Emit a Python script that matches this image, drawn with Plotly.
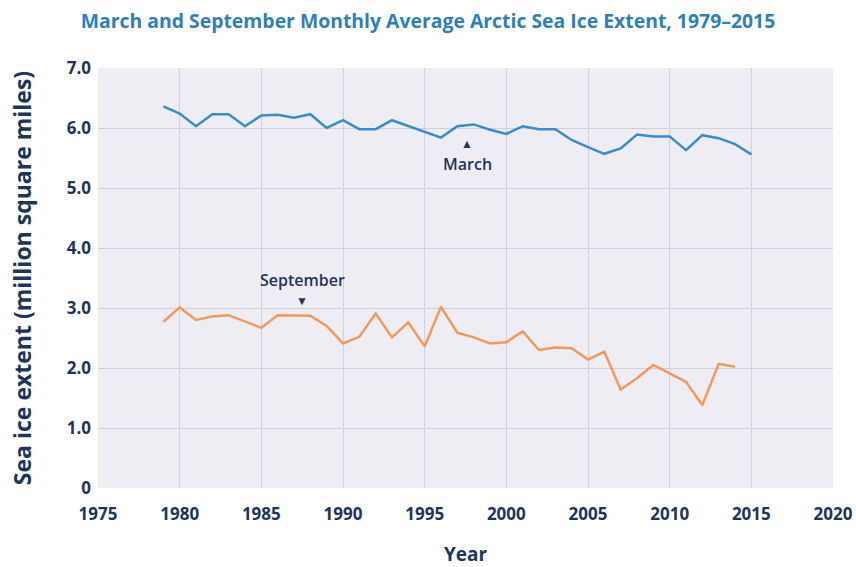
import plotly.graph_objects as go

years_march = list(range(1979, 2016))
march = [6.36, 6.24, 6.03, 6.23, 6.23, 6.03, 6.21, 6.22, 6.17, 6.23, 6.00, 6.13,
         5.98, 5.98, 6.13, 6.03, 5.94, 5.84, 6.03, 6.06, 5.97, 5.90, 6.03, 5.98,
         5.98, 5.80, 5.68, 5.57, 5.66, 5.89, 5.86, 5.86, 5.63, 5.88, 5.83, 5.73, 5.56]

years_sept = list(range(1979, 2015))
september = [2.77, 3.01, 2.80, 2.86, 2.88, 2.77, 2.67, 2.88, 2.87, 2.87, 2.70, 2.41,
             2.52, 2.91, 2.51, 2.76, 2.36, 3.02, 2.59, 2.51, 2.41, 2.43, 2.61, 2.30,
             2.34, 2.33, 2.14, 2.27, 1.64, 1.83, 2.05, 1.91, 1.77, 1.38, 2.07, 2.02]

x_ticks = list(range(1975, 2021, 5))
y_ticks = [0, 1, 2, 3, 4, 5, 6, 7]
y_ticktext = ["0", "1.0", "2.0", "3.0", "4.0", "5.0", "6.0", "7.0"]

NAVY = "#1f3557"
FONT = "Open Sans"

fig = go.Figure()
fig.add_trace(go.Scatter(x=years_march, y=march, mode="lines", name="March",
                         line=dict(color="#3a8ccc", width=2.5)))
fig.add_trace(go.Scatter(x=years_sept, y=september, mode="lines", name="September",
                         line=dict(color="#f0995c", width=2.5)))

fig.add_annotation(x=1997.6, y=5.74, text="▲", showarrow=False,
                   font=dict(family=FONT, size=12, color=NAVY))
fig.add_annotation(x=1997.6, y=5.40, text="March", showarrow=False,
                   font=dict(family=FONT, size=16, color=NAVY, weight=600))
fig.add_annotation(x=1987.5, y=3.46, text="September", showarrow=False,
                   font=dict(family=FONT, size=16, color=NAVY, weight=600))
fig.add_annotation(x=1987.5, y=3.12, text="▼", showarrow=False,
                   font=dict(family=FONT, size=12, color=NAVY))

fig.update_layout(
    width=856, height=567,
    margin=dict(l=98, r=23, t=68, b=79),
    paper_bgcolor="white",
    plot_bgcolor="#eeedf4",
    showlegend=False,
    title=dict(text="March and September Monthly Average Arctic Sea Ice Extent, 1979–2015",
               x=0.5, xanchor="center", y=1 - 21 / 567, yanchor="middle",
               font=dict(family=FONT, size=19.4, color="#2f7fb9", weight=700)),
    xaxis=dict(range=[1975, 2020], tickvals=x_ticks, showgrid=True,
               gridcolor="#d0cfda", gridwidth=1, zeroline=False, automargin=False,
               tickfont=dict(family=FONT, size=17, color=NAVY, weight=700),
               ticklabelstandoff=14,
               title=dict(text="Year", standoff=26,
                          font=dict(family=FONT, size=19, color=NAVY, weight=700))),
    yaxis=dict(range=[0, 7], tickvals=y_ticks, ticktext=y_ticktext, showgrid=True,
               gridcolor="#d0cfda", gridwidth=1, zeroline=False, automargin=False,
               tickfont=dict(family=FONT, size=17, color=NAVY, weight=700),
               ticklabelstandoff=6,
               title=dict(text="Sea ice extent (million square miles)", standoff=28,
                          font=dict(family=FONT, size=23, color=NAVY, weight=700))),
)

# remove the browser's default 8px body margin so the figure fills the window
fig.write_html("out.html", config={"displayModeBar": False},
               post_script="document.body.style.margin='0';document.body.style.overflow='hidden';")
